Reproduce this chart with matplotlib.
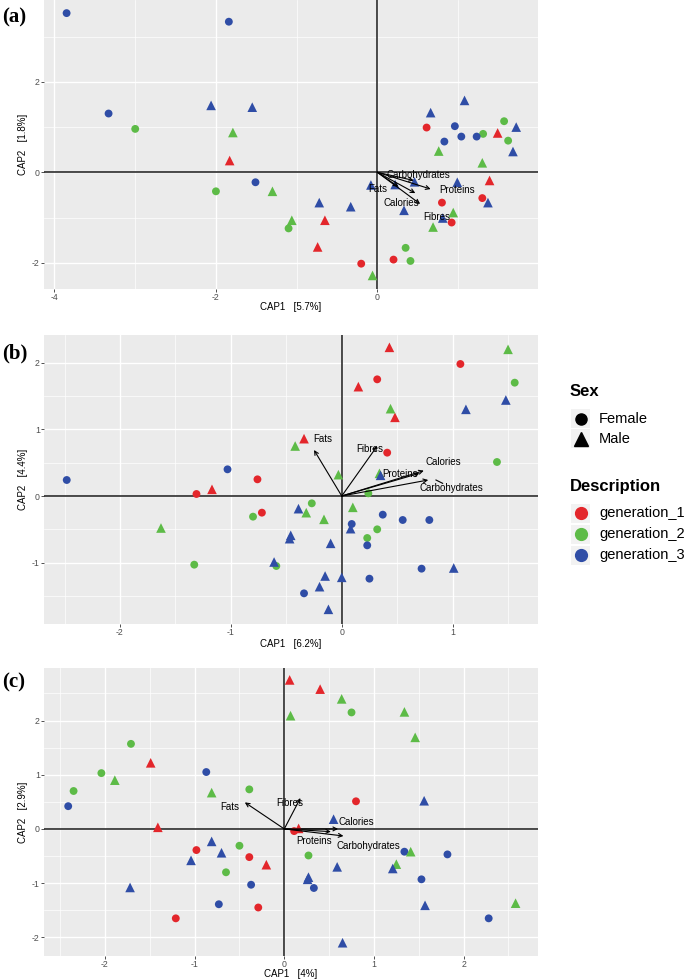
import matplotlib
matplotlib.use("Agg")
import matplotlib.pyplot as plt
from matplotlib.lines import Line2D
from matplotlib.patches import Rectangle

plt.rcParams['font.family'] = ['Liberation Sans', 'DejaVu Sans']

# ---------------- DATA ----------------
# Panel (a)
a_x = [-3.85, -1.84, -3.33, -3.00, -2.06, -1.55, -1.79, -1.83, -1.51, -2.00,
       -1.30, -0.72, -0.33, -1.06, -1.10, -0.65, -0.74, -0.20, -0.06, 0.20,
       0.35, 0.41, -0.08, 0.22, 0.46, 0.33, 0.99, 0.80, 0.94, 0.81,
       0.92, 0.69, 1.30, 1.37, 1.39, 1.30, 1.68, 1.49, 1.62, 1.72,
       1.57, 1.31, 1.23, 1.04, 0.96, 0.83, 0.61, 0.66, 1.08, 0.76]
a_y = [3.52, 3.33, 1.30, 0.96, 1.48, 1.44, 0.88, 0.26, -0.22, -0.42,
       -0.42, -0.67, -0.76, -1.06, -1.24, -1.06, -1.65, -2.02, -2.28, -1.93,
       -1.67, -1.96, -0.28, -0.27, -0.21, -0.84, -0.22, -0.67, -0.89, -1.01,
       -1.11, -1.21, -0.57, -0.67, -0.18, 0.21, 0.46, 0.87, 0.70, 1.00,
       1.13, 0.85, 0.79, 0.79, 1.02, 0.68, 0.99, 1.32, 1.59, 0.47]
a_sex = ['F', 'F', 'F', 'F', 'M', 'M', 'M', 'M', 'F', 'F',
         'M', 'M', 'M', 'M', 'F', 'M', 'M', 'F', 'M', 'F',
         'F', 'F', 'M', 'M', 'M', 'M', 'M', 'F', 'M', 'M',
         'F', 'M', 'F', 'M', 'M', 'M', 'M', 'M', 'F', 'M',
         'F', 'F', 'F', 'F', 'F', 'F', 'F', 'M', 'M', 'M']
a_gen = [3, 3, 3, 2, 3, 3, 2, 1, 3, 2,
         2, 3, 3, 2, 2, 1, 1, 1, 2, 1,
         2, 2, 3, 3, 3, 3, 3, 1, 2, 3,
         1, 2, 1, 3, 1, 2, 3, 1, 2, 3,
         2, 2, 3, 3, 3, 3, 1, 3, 3, 2]

# Panel (b)
b_x = [-2.48, -1.03, -1.31, -1.17, -0.76, -1.63, -0.80, -0.72, -1.33, -0.61,
       -0.59, 0.43, 1.50, 1.07, 1.56, 0.32, 0.15, 1.48, 1.12, 0.44,
       0.48, -0.34, -0.42, 0.41, 1.40, -0.03, 0.34, 0.35, 0.24, -0.27,
       -0.39, -0.32, 0.10, -0.16, 0.37, 0.55, 0.79, 0.09, 0.08, 0.32,
       -0.46, -0.47, 0.23, 0.23, -0.10, 0.72, 1.01, -0.15, 0.00, 0.25,
       -0.20, -0.34, -0.12]
b_y = [0.24, 0.40, 0.03, 0.10, 0.25, -0.48, -0.31, -0.25, -1.03, -0.99,
       -1.05, 2.23, 2.20, 1.98, 1.70, 1.75, 1.64, 1.44, 1.30, 1.31,
       1.18, 0.86, 0.75, 0.65, 0.51, 0.32, 0.34, 0.31, 0.04, -0.11,
       -0.19, -0.25, -0.17, -0.35, -0.28, -0.36, -0.36, -0.42, -0.49, -0.50,
       -0.59, -0.64, -0.63, -0.74, -0.71, -1.09, -1.08, -1.20, -1.22, -1.24,
       -1.36, -1.46, -1.70]
b_sex = ['F', 'F', 'F', 'M', 'F', 'M', 'F', 'F', 'F', 'M',
         'F', 'M', 'M', 'F', 'F', 'F', 'M', 'M', 'M', 'M',
         'M', 'M', 'M', 'F', 'F', 'M', 'M', 'M', 'F', 'F',
         'M', 'M', 'M', 'M', 'F', 'F', 'F', 'F', 'M', 'F',
         'M', 'M', 'F', 'F', 'M', 'F', 'M', 'M', 'M', 'F',
         'M', 'F', 'M']
b_gen = [3, 3, 1, 1, 1, 2, 2, 1, 2, 3,
         2, 1, 2, 1, 2, 1, 1, 3, 3, 2,
         1, 1, 2, 1, 2, 2, 2, 3, 2, 2,
         3, 2, 2, 2, 3, 3, 3, 3, 3, 2,
         3, 3, 2, 3, 3, 3, 3, 3, 3, 3,
         3, 3, 3]

# Panel (c)
c_x = [-1.71, -1.49, -2.04, -1.89, -0.87, -2.35, -2.41, -0.81, -0.39, -1.41,
       -0.81, -0.50, -0.98, -0.70, -1.04, -0.39, -0.20, -0.65, -1.72, -0.37,
       -0.73, -0.29, -1.21, 0.06, 0.40, 0.64, 0.07, 0.75, 1.34, 1.46,
       0.80, 1.56, 0.55, 0.11, 0.16, 0.27, 1.34, 1.41, 1.82, 0.59,
       1.25, 1.21, 0.27, 0.26, 0.33, 1.53, 1.57, 2.58, 2.28, 0.65]
c_y = [1.57, 1.22, 1.03, 0.90, 1.05, 0.70, 0.42, 0.67, 0.73, 0.03,
       -0.23, -0.31, -0.39, -0.44, -0.58, -0.52, -0.66, -0.80, -1.08, -1.03,
       -1.39, -1.45, -1.65, 2.75, 2.58, 2.40, 2.09, 2.15, 2.16, 1.69,
       0.51, 0.52, 0.18, -0.04, 0.01, -0.49, -0.42, -0.42, -0.47, -0.70,
       -0.65, -0.73, -0.89, -0.93, -1.09, -0.93, -1.41, -1.37, -1.65, -2.10]
c_sex = ['F', 'M', 'F', 'M', 'F', 'F', 'F', 'M', 'F', 'M',
         'M', 'F', 'F', 'M', 'M', 'F', 'M', 'F', 'M', 'F',
         'F', 'F', 'F', 'M', 'M', 'M', 'M', 'F', 'M', 'M',
         'F', 'M', 'M', 'F', 'M', 'F', 'F', 'M', 'F', 'M',
         'M', 'M', 'M', 'M', 'F', 'F', 'M', 'M', 'F', 'M']
c_gen = [2, 1, 2, 2, 3, 2, 3, 2, 2, 1,
         3, 2, 1, 3, 3, 1, 1, 2, 3, 3,
         3, 1, 1, 1, 1, 2, 2, 2, 2, 2,
         1, 3, 3, 1, 1, 2, 3, 2, 3, 3,
         2, 3, 3, 3, 3, 3, 3, 2, 3, 3]

# Biplot arrows (tip coordinates) and their labels
variables = ['Carbohydrates', 'Proteins', 'Fats', 'Calories', 'Fibres']
a_tip_x = [0.45, 0.66, 0.26, 0.47, 0.53]
a_tip_y = [-0.18, -0.37, -0.32, -0.46, -0.70]
a_lab_x = [0.51, 0.99, 0.00, 0.30, 0.74]
a_lab_y = [-0.07, -0.39, -0.37, -0.67, -0.98]

b_tip_x = [0.78, 0.70, -0.25, 0.74, 0.32]
b_tip_y = [0.24, 0.34, 0.69, 0.38, 0.75]
b_lab_x = [0.99, 0.53, -0.17, 0.92, 0.25]
b_lab_y = [0.12, 0.33, 0.85, 0.51, 0.70]

c_tip_x = [0.66, 0.52, -0.44, 0.60, 0.18]
c_tip_y = [-0.13, -0.05, 0.49, 0.00, 0.57]
c_lab_x = [0.94, 0.33, -0.61, 0.80, 0.06]
c_lab_y = [-0.31, -0.22, 0.41, 0.12, 0.47]

axis_x_labels = ['CAP1   [5.7%]', 'CAP1   [6.2%]', 'CAP1   [4%]']
axis_y_labels = ['CAP2   [1.8%]', 'CAP2   [4.4%]', 'CAP2   [2.9%]']
panel_tags = ['(a)', '(b)', '(c)']

sex_levels = ['Female', 'Male']
gen_levels = ['generation_1', 'generation_2', 'generation_3']

# ---------------- STYLE ----------------
gen_colors = {1: '#E3262B', 2: '#5DBB47', 3: '#2F4DA6'}
sex_markers = {'F': 'o', 'M': '^'}
sex_sizes = {'F': 32, 'M': 48}

W, H = 685, 980
fig = plt.figure(figsize=(W / 100, H / 100), dpi=100)

# panel boxes in pixels: (left, top, right, bottom)
boxes = [(44, 0, 538, 289), (44, 335, 538, 624), (44, 668, 538, 956)]
xlims = [(-4.13, 1.99), (-2.685, 1.77), (-2.68, 2.83)]
ylims = [(-2.58, 3.81), (-1.92, 2.415), (-2.345, 2.97)]
xmaj = [[-4, -2, 0], [-2, -1, 0, 1], [-2, -1, 0, 1, 2]]
xmin = [[-3, -1, 1], [-2.5, -1.5, -0.5, 0.5, 1.5], [-2.5, -1.5, -0.5, 0.5, 1.5, 2.5]]
ymaj = [[-2, 0, 2], [-1, 0, 1, 2], [-2, -1, 0, 1, 2]]
ymin = [[-1, 1, 3], [-1.5, -0.5, 0.5, 1.5], [-1.5, -0.5, 0.5, 1.5, 2.5]]
xlab_top = [302, 639, 969]
tag_y = [17, 353, 682]

panels = [
    (a_x, a_y, a_sex, a_gen, a_tip_x, a_tip_y, a_lab_x, a_lab_y),
    (b_x, b_y, b_sex, b_gen, b_tip_x, b_tip_y, b_lab_x, b_lab_y),
    (c_x, c_y, c_sex, c_gen, c_tip_x, c_tip_y, c_lab_x, c_lab_y),
]

for i, (px, py, psex, pgen, tx, ty, lx, ly) in enumerate(panels):
    l, t, r, b = boxes[i]
    ax = fig.add_axes([l / W, 1 - b / H, (r - l) / W, (b - t) / H])
    ax.set_facecolor('#EBEBEB')
    for s in ax.spines.values():
        s.set_visible(False)
    ax.set_xlim(*xlims[i])
    ax.set_ylim(*ylims[i])
    ax.set_xticks(xmaj[i])
    ax.set_xticks(xmin[i], minor=True)
    ax.set_yticks(ymaj[i])
    ax.set_yticks(ymin[i], minor=True)
    ax.set_xticklabels([f'{v:g}' for v in xmaj[i]])
    ax.set_yticklabels([f'{v:g}' for v in ymaj[i]])
    ax.grid(which='major', color='white', lw=1.0, zorder=0)
    ax.grid(which='minor', color='white', lw=0.5, zorder=0)
    ax.set_axisbelow(True)
    ax.tick_params(which='major', length=2, width=0.6, color='#333333',
                   labelsize=6.3, labelcolor='#4D4D4D', pad=1.0)
    ax.tick_params(which='minor', length=0)
    ax.axhline(0, color='#1A1A1A', lw=1.1, zorder=1)
    ax.axvline(0, color='#1A1A1A', lw=1.1, zorder=1)

    for sx in ['F', 'M']:
        for g in [1, 2, 3]:
            xs = [x for x, s_, gg in zip(px, psex, pgen) if s_ == sx and gg == g]
            ys = [y for y, s_, gg in zip(py, psex, pgen) if s_ == sx and gg == g]
            ax.scatter(xs, ys, marker=sex_markers[sx], s=sex_sizes[sx],
                       color=gen_colors[g], edgecolors='none', zorder=2)

    for name, x1, y1, x2, y2 in zip(variables, tx, ty, lx, ly):
        ax.annotate('', xy=(x1, y1), xytext=(0, 0),
                    arrowprops=dict(arrowstyle='->', color='black', lw=0.8,
                                    shrinkA=0, shrinkB=0, mutation_scale=7),
                    zorder=3)
        ax.text(x2, y2, name, fontsize=7, ha='center', va='center',
                color='black', zorder=4)

    if i == 1:
        # short leader segment next to the Carbohydrates label
        ax.plot([0.85, 0.91], [0.24, 0.19], color='black', lw=0.8, zorder=3)

    ax.set_xlabel(axis_x_labels[i], fontsize=7)
    ax.set_ylabel(axis_y_labels[i], fontsize=7)
    ax.xaxis.set_label_coords(0.5, (b - xlab_top[i]) / (b - t))
    ax.yaxis.set_label_coords(-0.033, 0.5)

    fig.text(2 / W, 1 - tag_y[i] / H, panel_tags[i], fontsize=15,
             fontweight='bold', family='Liberation Serif', va='center',
             ha='left')

# ---------------- LEGEND ----------------
def fy(p):
    return 1 - p / H

def fx(p):
    return p / W

fig.text(fx(570), fy(391), 'Sex', fontsize=12, fontweight='bold',
         va='center', ha='left')
for lab, key, yy in zip(sex_levels, ['F', 'M'], [419, 439]):
    fig.add_artist(Rectangle((fx(571), fy(yy + 9.5)), 19 / W, 19 / H,
                             transform=fig.transFigure, color='#F2F2F2', lw=0))
    fig.add_artist(Line2D([fx(580.5)], [fy(yy)], marker=sex_markers[key],
                          markersize=8 if key == 'F' else 10, color='black',
                          linestyle='none', transform=fig.transFigure))
    fig.text(fx(599), fy(yy), lab, fontsize=10.5, va='center', ha='left')

fig.text(fx(570), fy(486), 'Description', fontsize=12, fontweight='bold',
         va='center', ha='left')
for lab, g, yy in zip(gen_levels, [1, 2, 3], [513, 534, 555]):
    fig.add_artist(Rectangle((fx(571), fy(yy + 9.5)), 19 / W, 19 / H,
                             transform=fig.transFigure, color='#F2F2F2', lw=0))
    fig.add_artist(Line2D([fx(580.5)], [fy(yy)], marker='o', markersize=8.5,
                          color=gen_colors[g], linestyle='none',
                          transform=fig.transFigure))
    fig.text(fx(599), fy(yy), lab, fontsize=10.5, va='center', ha='left')

fig.savefig('out.png', dpi=100)
